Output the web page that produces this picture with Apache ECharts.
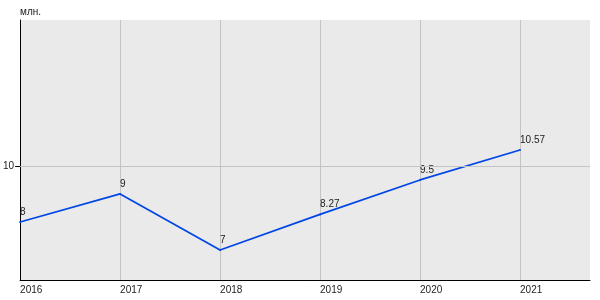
<!DOCTYPE html>
<html><head><meta charset="utf-8">
<script src="https://cdn.jsdelivr.net/npm/echarts@6/dist/echarts.min.js"></script>
<style>html,body{margin:0;padding:0;background:#fff}#c{width:600px;height:300px}</style>
</head><body><div id="c"></div>
<script>
const years = [2016, 2017, 2018, 2019, 2020, 2021];
const values = [8, 9, 7, 8.27, 9.5, 10.57];
const yTicks = [10];
const unitLabel = 'млн.';

const chart = echarts.init(document.getElementById('c'), null, {renderer: 'canvas'});
chart.setOption({
  animation: false,
  backgroundColor: '#ffffff',
  grid: {left: 20, right: 10, top: 20, bottom: 20, show: true, backgroundColor: '#eaeaea', borderWidth: 0},
  xAxis: {
    type: 'value', min: 2016, max: 2021.7, interval: 1,
    axisLine: {show: true, lineStyle: {color: '#000', width: 1}},
    axisTick: {show: false, customValues: years},
    axisLabel: {customValues: years, color: '#222', fontFamily: 'Liberation Sans, Arial', fontSize: 10, align: 'left', margin: 5, formatter: v => String(v)},
    splitLine: {show: true, lineStyle: {color: '#c4c4c4', width: 1}}
  },
  yAxis: {
    type: 'value', min: 5.93, max: 15.21,
    name: unitLabel, nameLocation: 'end', nameGap: 3,
    nameTextStyle: {align: 'left', color: '#222', fontFamily: 'Liberation Sans, Arial', fontSize: 10, verticalAlign: 'bottom'},
    axisLine: {show: true, lineStyle: {color: '#000', width: 1}},
    axisTick: {show: true, customValues: yTicks, length: 5, lineStyle: {color: '#000'}},
    axisLabel: {customValues: yTicks, color: '#222', fontFamily: 'Liberation Sans, Arial', fontSize: 10, margin: 6},
    splitLine: {show: false}
  },
  series: [{
    type: 'line',
    data: years.map((y, i) => [y, values[i]]),
    symbol: 'circle', symbolSize: 2, showSymbol: true, clip: false,
    itemStyle: {color: '#0047e6', borderWidth: 0},
    lineStyle: {color: '#0047e6', width: 1.8},
    label: {show: true, position: 'top', align: 'left', distance: 4, color: '#222', fontFamily: 'Liberation Sans, Arial', fontSize: 10, formatter: p => String(p.value[1])},
    labelLayout: {hideOverlap: false},
    markLine: {
      silent: true, symbol: 'none', label: {show: false},
      lineStyle: {color: '#c4c4c4', width: 1, type: 'solid'},
      data: yTicks.map(v => ({yAxis: v}))
    }
  }]
});
</script></body></html>
